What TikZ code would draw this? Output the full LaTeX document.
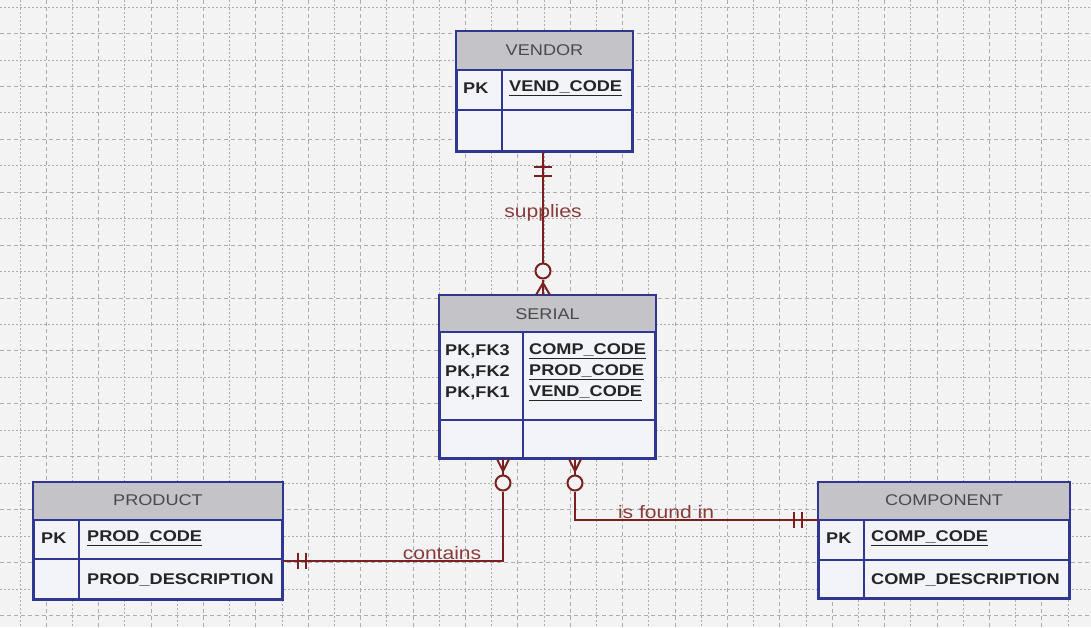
\documentclass[tikz,border=0pt]{standalone}
\usepackage{fontspec}
\setmainfont{Liberation Sans}[FakeStretch=1.17]
\usetikzlibrary{calc}
\definecolor{bgc}{HTML}{F3F3F3}
\definecolor{gridc}{HTML}{ADADAD}
\definecolor{navy}{HTML}{2F3793}
\definecolor{hdrc}{HTML}{C3C3C8}
\definecolor{bodyc}{HTML}{F3F3FA}
\definecolor{relc}{HTML}{7A2020}
\definecolor{lblc}{HTML}{8A3C3C}
\definecolor{txtc}{HTML}{252525}
\definecolor{htxt}{HTML}{4A4A4A}
\tikzset{
  ent/.style={draw=navy, line width=2pt, fill=bodyc, rectangle, inner sep=0pt},
  bline/.style={draw=navy, line width=2pt},
  hdrtext/.style={text=htxt, font=\fontsize{15.5}{18}\selectfont, inner sep=0pt},
  fld/.style={text=txtc, font=\fontsize{15.5}{18}\selectfont\bfseries, anchor=west, inner sep=0pt},
  rel/.style={draw=relc, line width=2.4pt},
  tick/.style={draw=relc, line width=2pt},
  circ/.style={circle, draw=relc, line width=2pt, fill=bgc, minimum size=15pt, inner sep=0pt},
  lbl/.style={text=lblc, font=\fontsize{18}{20}\selectfont, inner sep=0pt},
  gridA/.style={draw=gridc, line width=0.8pt, dash pattern=on 4pt off 3pt},
  gridB/.style={draw=gridc, line width=0.8pt, dash pattern=on 1.5pt off 2.5pt}
}
\begin{document}
\begin{tikzpicture}[x=1pt,y=-1pt]
\fill[bgc] (0,0) rectangle (1091,627);
\useasboundingbox (0,0) rectangle (1091,627);
% grid
\foreach \i in {0,2,...,40} { \draw[gridB] ({20+26.2*\i},0) -- ({20+26.2*\i},627); }
\foreach \i in {1,3,...,41} { \draw[gridA] ({20+26.2*\i},0) -- ({20+26.2*\i},627); }
\foreach \i in {0,2,...,22} { \draw[gridB] (0,{7+26.45*\i}) -- (1091,{7+26.45*\i}); }
\foreach \i in {1,3,...,23} { \draw[gridA] (0,{7+26.45*\i}) -- (1091,{7+26.45*\i}); }

% VENDOR
\node[ent, minimum width=175pt, minimum height=119pt] (vendor) at (544.5,91.5) {};
\fill[hdrc] (457,32) rectangle (632,70);
\draw[bline] (457,70) -- (632,70);
\draw[bline] (457,110) -- (632,110);
\draw[bline] (502,70) -- (502,151);
\draw[bline] (vendor.north west) rectangle (vendor.south east);
\node[hdrtext] (vendorT) at (544.5,50) {VENDOR};
\node[fld] (vendorPK) at (463,88) {PK};
\node[fld] (vendorF1) at (509,88) {\underline{VEND\_CODE}};

% SERIAL
\node[ent, minimum width=215pt, minimum height=162pt] (serial) at (547.5,377) {};
\fill[hdrc] (440,296) rectangle (655,332);
\draw[bline] (440,332) -- (655,332);
\draw[bline] (440,420) -- (655,420);
\draw[bline] (523,332) -- (523,458);
\draw[bline] (serial.north west) rectangle (serial.south east);
\node[hdrtext] (serialT) at (547.5,314) {SERIAL};
\node[fld] (serialK1) at (445,351) {PK,FK3};
\node[fld] (serialK2) at (445,372) {PK,FK2};
\node[fld] (serialK3) at (445,393) {PK,FK1};
\node[fld] (serialF1) at (529,351) {\underline{COMP\_CODE}};
\node[fld] (serialF2) at (529,372) {\underline{PROD\_CODE}};
\node[fld] (serialF3) at (529,393) {\underline{VEND\_CODE}};

% PRODUCT
\node[ent, minimum width=248pt, minimum height=116pt] (prod) at (158,541) {};
\fill[hdrc] (34,483) rectangle (282,520);
\draw[bline] (34,520) -- (282,520);
\draw[bline] (34,559) -- (282,559);
\draw[bline] (79,520) -- (79,599);
\draw[bline] (prod.north west) rectangle (prod.south east);
\node[hdrtext] (prodT) at (158,500) {PRODUCT};
\node[fld] (prodPK) at (41,538) {PK};
\node[fld] (prodF1) at (87,538) {\underline{PROD\_CODE}};
\node[fld] (prodF2) at (87,580) {PROD\_DESCRIPTION};

% COMPONENT
\node[ent, minimum width=250pt, minimum height=115pt] (comp) at (944,540.5) {};
\fill[hdrc] (819,483) rectangle (1069,520);
\draw[bline] (819,520) -- (1069,520);
\draw[bline] (819,560) -- (1069,560);
\draw[bline] (864,520) -- (864,598);
\draw[bline] (comp.north west) rectangle (comp.south east);
\node[hdrtext] (compT) at (944,500) {COMPONENT};
\node[fld] (compPK) at (826,538) {PK};
\node[fld] (compF1) at (871,538) {\underline{COMP\_CODE}};
\node[fld] (compF2) at (871,580) {COMP\_DESCRIPTION};

% supplies
\node[circ] (supo) at (543,271) {};
\draw[rel] (vendor.south -| supo) -- (supo.north);
\draw[tick] ($(vendor.south -| supo)+(-9,15)$) -- ++(18,0);
\draw[tick] ($(vendor.south -| supo)+(-9,24)$) -- ++(18,0);
\coordinate (supa) at (543,283);
\draw[rel] (supo.south) -- (serial.north -| supo);
\draw[tick] (supa) -- ($(serial.north -| supo)+(-7,0)$);
\draw[tick] (supa) -- ($(serial.north -| supo)+(7,0)$);
\node[lbl] (supL) at (543,213) {supplies};

% contains
\node[circ] (conto) at (503,483) {};
\coordinate (cbend) at (503,561);
\draw[rel] (conto.south) -- (cbend) -- (cbend -| prod.east);
\draw[tick] ($(cbend -| prod.east)+(15,-8)$) -- ++(0,16);
\draw[tick] ($(cbend -| prod.east)+(23,-8)$) -- ++(0,16);
\coordinate (cona) at (503,471);
\draw[rel] (conto.north) -- (serial.south -| conto);
\draw[tick] (cona) -- ($(serial.south -| conto)+(-6,0)$);
\draw[tick] (cona) -- ($(serial.south -| conto)+(6,0)$);
\node[lbl] (conL) at (442,553) {contains};

% is found in
\node[circ] (foundo) at (575,483) {};
\coordinate (fbend) at (575,520);
\draw[rel] (foundo.south) -- (fbend) -- (fbend -| comp.west);
\draw[tick] ($(fbend -| comp.west)+(-24,-8)$) -- ++(0,16);
\draw[tick] ($(fbend -| comp.west)+(-16,-8)$) -- ++(0,16);
\coordinate (founda) at (575,471);
\draw[rel] (foundo.north) -- (serial.south -| foundo);
\draw[tick] (founda) -- ($(serial.south -| foundo)+(-6,0)$);
\draw[tick] (founda) -- ($(serial.south -| foundo)+(6,0)$);
\node[lbl] (foundL) at (666,512) {is found in};
\end{tikzpicture}
\end{document}
